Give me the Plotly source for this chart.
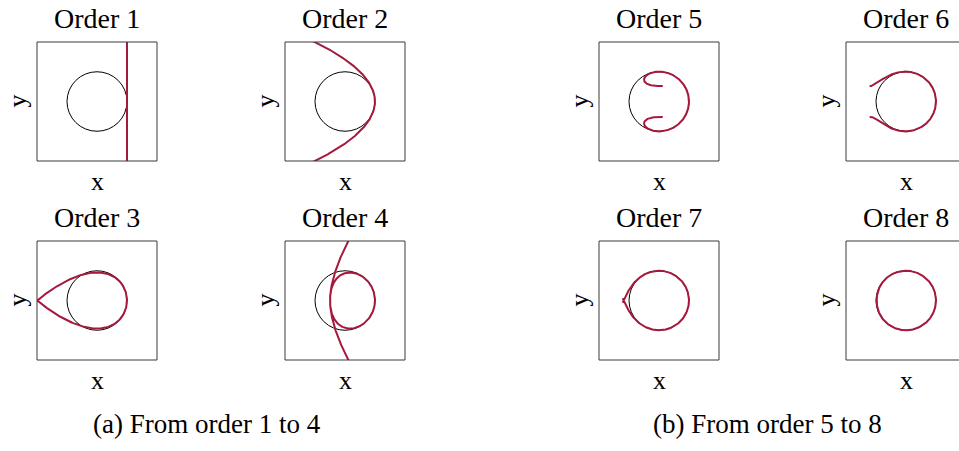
import numpy as np
import plotly.graph_objects as go

# Maclaurin coefficients of cos(t) and sin(t), index = power of t
cos_coeffs = [1.0, 0.0, -1 / 2, 0.0, 1 / 24, 0.0, -1 / 720, 0.0, 1 / 40320]
sin_coeffs = [0.0, 1.0, 0.0, -1 / 6, 0.0, 1 / 120, 0.0, -1 / 5040, 0.0]

orders = [1, 2, 3, 4, 5, 6, 7, 8]
titles = ["Order 1", "Order 2", "Order 3", "Order 4",
          "Order 5", "Order 6", "Order 7", "Order 8"]
captions = ["(a) From order 1 to 4", "(b) From order 5 to 8"]

# parameter range of the truncated series
t = np.linspace(-np.pi, np.pi, 1201)

W, H = 959, 451
FONT = "Liberation Serif"
CURVE = "#a6193c"
FRAME = "#3a3a3a"

# grid cells (pixels): column left edges, row top edges, box size
col_left = [37, 285, 599, 846]
row_top = [42, 241]
box_w, box_h = 120, 119
lim = 2.0

# (row, col) of each order
cell = {1: (0, 0), 2: (0, 1), 3: (1, 0), 4: (1, 1),
        5: (0, 2), 6: (0, 3), 7: (1, 2), 8: (1, 3)}


def partial_sum(coeffs, n):
    c = np.array(coeffs[: n + 1])
    return np.polynomial.polynomial.polyval(t, c)


fig = go.Figure()
shapes = []
annotations = []

for i, n in enumerate(orders):
    r, c = cell[n]
    left, top = col_left[c], row_top[r]
    right = left + box_w
    vis_right = min(right, W)
    x_hi = -lim + 2 * lim * (vis_right - left) / box_w
    k = "" if i == 0 else str(i + 1)

    fig.layout["xaxis" + k] = dict(
        domain=[left / W, vis_right / W], range=[-lim, x_hi],
        visible=False, anchor="y" + k)
    fig.layout["yaxis" + k] = dict(
        domain=[1 - (top + box_h) / H, 1 - top / H], range=[-lim, lim],
        visible=False, anchor="x" + k)

    # reference unit circle
    shapes.append(dict(type="circle", xref="x" + k, yref="y" + k,
                       x0=-1, x1=1, y0=-1, y1=1, layer="below",
                       line=dict(color="black", width=1)))
    # frame of the panel
    shapes.append(dict(type="rect", xref="paper", yref="paper",
                       x0=left / W, x1=right / W,
                       y0=1 - (top + box_h) / H, y1=1 - top / H,
                       line=dict(color=FRAME, width=1), layer="above"))

    fig.add_trace(go.Scatter(
        x=partial_sum(cos_coeffs, n), y=partial_sum(sin_coeffs, n),
        mode="lines", line=dict(color=CURVE, width=2),
        xaxis="x" + k, yaxis="y" + k, showlegend=False, hoverinfo="skip"))

    cx = (left + right) / 2
    annotations.append(dict(text=titles[i], xref="paper", yref="paper",
                            x=cx / W, y=1 - (top - 24) / H,
                            xanchor="center", yanchor="middle", showarrow=False,
                            font=dict(family=FONT, size=28, color="black")))
    annotations.append(dict(text="x", xref="paper", yref="paper",
                            x=cx / W, y=1 - (top + box_h + 20) / H,
                            xanchor="center", yanchor="middle", showarrow=False,
                            font=dict(family=FONT, size=26, color="black")))
    annotations.append(dict(text="y", xref="paper", yref="paper",
                            x=(left - 20) / W, y=1 - (top + box_h / 2) / H,
                            xanchor="center", yanchor="middle", showarrow=False,
                            textangle=-90,
                            font=dict(family=FONT, size=26, color="black")))

for txt, cx in zip(captions, [207, 767]):
    annotations.append(dict(text=txt, xref="paper", yref="paper",
                            x=cx / W, y=1 - 424 / H,
                            xanchor="center", yanchor="middle", showarrow=False,
                            font=dict(family=FONT, size=27, color="black")))

fig.update_layout(
    width=W, height=H,
    margin=dict(l=0, r=0, t=0, b=0),
    paper_bgcolor="white", plot_bgcolor="white",
    shapes=shapes, annotations=annotations,
    showlegend=False,
)

fig.write_html("out.html")
